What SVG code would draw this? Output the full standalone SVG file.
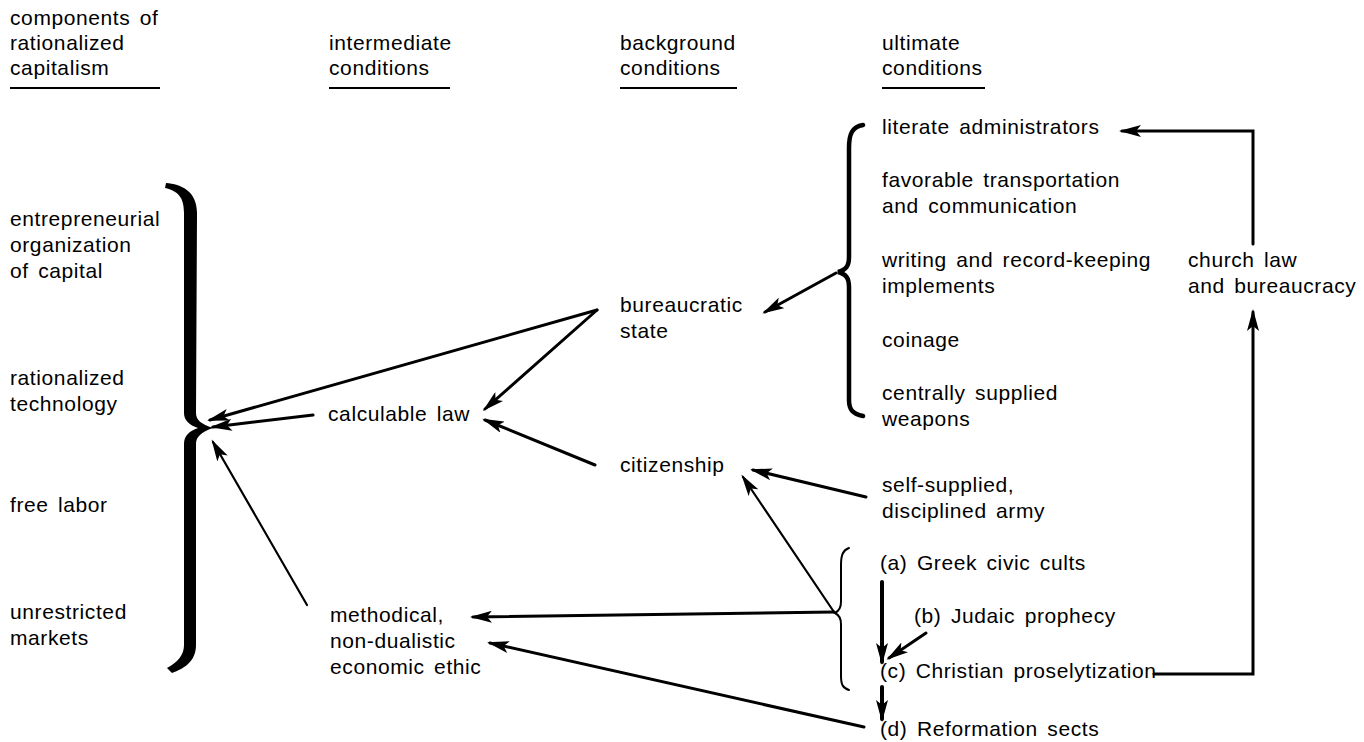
<svg xmlns="http://www.w3.org/2000/svg" width="1364" height="742" viewBox="0 0 1364 742">
  <defs>
    <style>
      text { font-family: "Liberation Sans", Arial, sans-serif; font-size: 21px; fill: #000; word-spacing: 3px; letter-spacing: 0.6px; }
      .rule { stroke: #000; stroke-width: 2; }
      .edge { fill: none; stroke: #000; stroke-width: 3; stroke-linecap: round; }
      .thin { stroke-width: 2.2; }
      .thick { stroke-width: 4; }
      .brace { fill: none; stroke: #000; stroke-width: 4.5; stroke-linecap: round; }
      .brace-thin { fill: none; stroke: #000; stroke-width: 2; stroke-linecap: round; }
    </style>
    <marker id="ah" viewBox="0 0 22 12" markerWidth="22" markerHeight="12" refX="19" refY="6" orient="auto" markerUnits="userSpaceOnUse">
      <path d="M0,0 L22,6 L0,12 L5,6 Z" fill="#000"/>
    </marker>
  </defs>
  <rect width="1364" height="742" fill="#fff"/>

  <!-- column headings -->
  <g id="heading-components">
    <text x="10" y="25">components of</text>
    <text x="10" y="50">rationalized</text>
    <text x="10" y="75">capitalism</text>
    <line class="rule" x1="10" y1="88" x2="160" y2="88"/>
  </g>
  <g id="heading-intermediate">
    <text x="329" y="50">intermediate</text>
    <text x="329" y="75">conditions</text>
    <line class="rule" x1="329" y1="88" x2="450" y2="88"/>
  </g>
  <g id="heading-background">
    <text x="620" y="50">background</text>
    <text x="620" y="75">conditions</text>
    <line class="rule" x1="620" y1="88" x2="737" y2="88"/>
  </g>
  <g id="heading-ultimate">
    <text x="882" y="50">ultimate</text>
    <text x="882" y="75">conditions</text>
    <line class="rule" x1="882" y1="88" x2="985" y2="88"/>
  </g>

  <!-- components of rationalized capitalism -->
  <g id="components">
    <text x="10" y="226">entrepreneurial</text>
    <text x="10" y="252">organization</text>
    <text x="10" y="278">of capital</text>
    <text x="10" y="385">rationalized</text>
    <text x="10" y="411">technology</text>
    <text x="10" y="512">free labor</text>
    <text x="10" y="619">unrestricted</text>
    <text x="10" y="645">markets</text>
  </g>
  <g id="components-brace">
    <path d="M166,183 C181,184 197,191 197,213 L196,413 C196,420 201,424 213,428 C201,432 196,437 196,444 L196,645 C196,660 186,668 172,673 L167,668 C178,662 184,655 184,645 L184,444 C184,436 189,431 198,428 C189,425 184,420 184,413 L184,213 C184,197 178,191 165,188 Z" fill="#000"/>
  </g>

  <!-- intermediate conditions -->
  <g id="calculable-law"><text x="328" y="421">calculable law</text></g>
  <g id="economic-ethic">
    <text x="330" y="622">methodical,</text>
    <text x="330" y="648">non-dualistic</text>
    <text x="330" y="674">economic ethic</text>
  </g>

  <!-- background conditions -->
  <g id="bureaucratic-state">
    <text x="620" y="312">bureaucratic</text>
    <text x="620" y="338">state</text>
  </g>
  <g id="citizenship"><text x="620" y="472">citizenship</text></g>

  <!-- ultimate conditions -->
  <g id="state-prerequisites">
    <text x="882" y="134">literate administrators</text>
    <text x="882" y="187">favorable transportation</text>
    <text x="882" y="213">and communication</text>
    <text x="882" y="267">writing and record-keeping</text>
    <text x="882" y="293">implements</text>
    <text x="882" y="347">coinage</text>
    <text x="882" y="400">centrally supplied</text>
    <text x="882" y="426">weapons</text>
    <path class="brace" d="M863,125 C852,127 849,134 849,148 L849,257 C849,266 846,270 838,272 C846,274 849,278 849,287 L849,400 C849,410 853,414 863,416"/>
  </g>
  <g id="army">
    <text x="882" y="492">self-supplied,</text>
    <text x="882" y="518">disciplined army</text>
  </g>
  <g id="religion">
    <text x="880" y="570">(a) Greek civic cults</text>
    <text x="914" y="623">(b) Judaic prophecy</text>
    <text x="880" y="678">(c) Christian proselytization</text>
    <text x="880" y="736">(d) Reformation sects</text>
    <path class="brace-thin" d="M849,548 C843,550 841,555 841,565 L841,602 C841,608 839,611 835,613 C839,615 841,618 841,624 L841,676 C841,685 843,688 849,690"/>
  </g>
  <g id="church-law">
    <text x="1188" y="267">church law</text>
    <text x="1188" y="293">and bureaucracy</text>
  </g>

  <!-- causal links -->
  <g id="connectors">
    <line class="edge" x1="597" y1="310" x2="210" y2="420" marker-end="url(#ah)"/>
    <line class="edge" x1="597" y1="310" x2="485" y2="409" marker-end="url(#ah)"/>
    <line class="edge" x1="313" y1="415" x2="213" y2="427" marker-end="url(#ah)"/>
    <line class="edge" x1="595" y1="465" x2="485" y2="420" marker-end="url(#ah)"/>
    <line class="edge thin" x1="307" y1="605" x2="213" y2="442" marker-end="url(#ah)"/>
    <line class="edge" x1="836" y1="273" x2="765" y2="312" marker-end="url(#ah)"/>
    <line class="edge" x1="866" y1="497" x2="753" y2="470" marker-end="url(#ah)"/>
    <line class="edge thin" x1="834" y1="612" x2="743" y2="477" marker-end="url(#ah)"/>
    <line class="edge" x1="834" y1="612" x2="473" y2="617" marker-end="url(#ah)"/>
    <line class="edge" x1="864" y1="727" x2="490" y2="643" marker-end="url(#ah)"/>
    <line class="edge thick" x1="882" y1="582" x2="882" y2="662" marker-end="url(#ah)"/>
    <line class="edge" x1="926" y1="633" x2="889" y2="658" marker-end="url(#ah)"/>
    <line class="edge thick" x1="882" y1="687" x2="882" y2="719" marker-end="url(#ah)"/>
    <path class="edge" d="M1253,244 L1253,131 L1122,131" marker-end="url(#ah)"/>
    <path class="edge" d="M1154,674 L1253,674 L1253,312" marker-end="url(#ah)"/>
  </g>
</svg>
